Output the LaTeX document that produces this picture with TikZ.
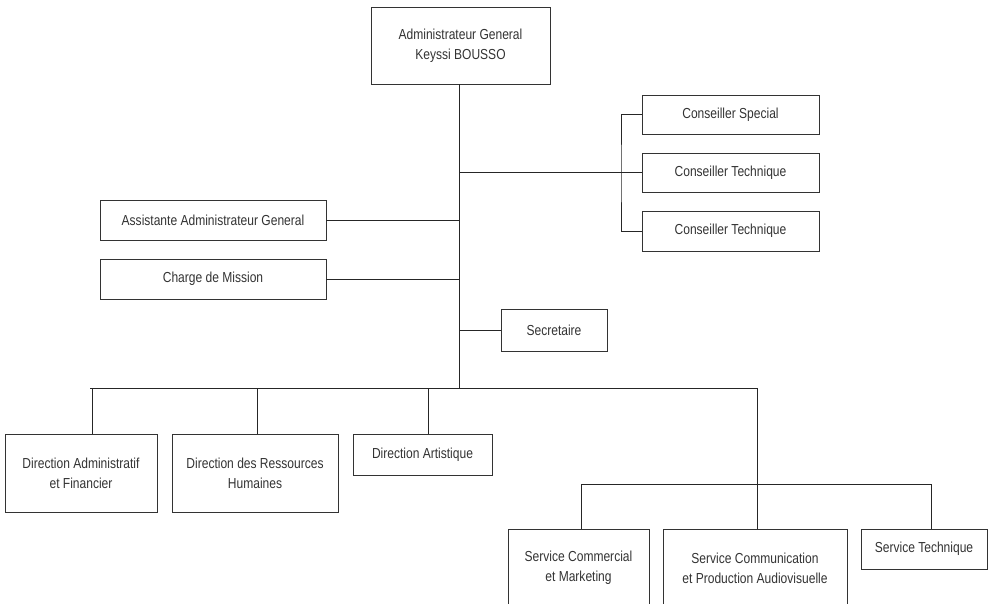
\documentclass[tikz,border=0pt]{standalone}
\usepackage{fontspec}
\setmainfont[FakeStretch=0.83]{Liberation Sans}
\begin{document}
\begin{tikzpicture}[x=1pt,y=-1pt,
  box/.style={draw=black!80,line width=0.9pt,inner sep=0pt,align=center,
    text=black!80,font=\fontsize{14.5}{20}\selectfont},
  link/.style={draw=black!85,line width=0.9pt}]
\useasboundingbox (0,0) rectangle (997,604);
\clip (0,0) rectangle (997,604);

% head of the organisation
\node[box,minimum width=179pt,minimum height=77pt] (ag) at (460.5,45.5)
  {Administrateur General\\Keyssi BOUSSO};

% advisers on the right
\node[box,minimum width=177pt,minimum height=39pt] (cs)  at (730.5,114.5) {Conseiller Special};
\node[box,minimum width=177pt,minimum height=39pt] (ct1) at (730.5,172.5) {Conseiller Technique};
\node[box,minimum width=177pt,minimum height=40pt] (ct2) at (730.5,231)   {Conseiller Technique};

% staff attached to the head
\node[box,minimum width=226pt,minimum height=40pt] (asst) at (213,220) {Assistante Administrateur General};
\node[box,minimum width=226pt,minimum height=40pt] (cm)   at (213,279) {Charge de Mission};
\node[box,minimum width=106pt,minimum height=42pt] (sec)  at (554,330) {Secretaire};

% directions
\node[box,minimum width=152pt,minimum height=78pt] (daf) at (81,473)    {Direction Administratif\\et Financier};
\node[box,minimum width=166pt,minimum height=78pt] (drh) at (255,473)   {Direction des Ressources\\Humaines};
\node[box,minimum width=139pt,minimum height=41pt] (da)  at (422.5,454.5) {Direction Artistique};

% services
\node[box,minimum width=141pt,minimum height=78pt] (scm) at (578.5,568) {Service Commercial\\et Marketing};
\node[box,minimum width=184pt,minimum height=78pt] (scp) at (755,568)   {Service Communication\\et Production Audiovisuelle};
\node[box,minimum width=126pt,minimum height=40pt] (st)  at (924,549)   {Service Technique};

% junction points of the trunk and buses
\coordinate (trunk) at (459,388);
\coordinate (busL) at (90,388);
\coordinate (busR) at (757,388);
\coordinate (brk)  at (621,174);
\coordinate (sbusL) at (581,484);
\coordinate (sbusR) at (931,484);

% main trunk
\draw[link] (ag.south -| trunk) -- (trunk);

% advisers bracket
\draw[link] (trunk |- ct1.west) -- (ct1.west);
\draw[link] (cs.west) -| (brk) |- (ct2.west);

% staff links
\draw[link] (asst.east) -- (asst.east -| trunk);
\draw[link] (cm.east) -- (cm.east -| trunk);
\draw[link] (sec.west) -- (sec.west -| trunk);

% directions bus
\draw[link] (busL) -- (busR);
\draw[link] (92,388) -- (daf.north -| 92,0);
\draw[link] (257,388) -- (drh.north -| 257,0);
\draw[link] (428,388) -- (da.north -| 428,0);
\draw[link] (busR) -- (scp.north -| busR);

% services bus
\draw[link] (sbusL) -- (sbusR);
\draw[link] (sbusL) -- (scm.north -| sbusL);
\draw[link] (sbusR) -- (st.north -| sbusR);
\end{tikzpicture}
\end{document}
